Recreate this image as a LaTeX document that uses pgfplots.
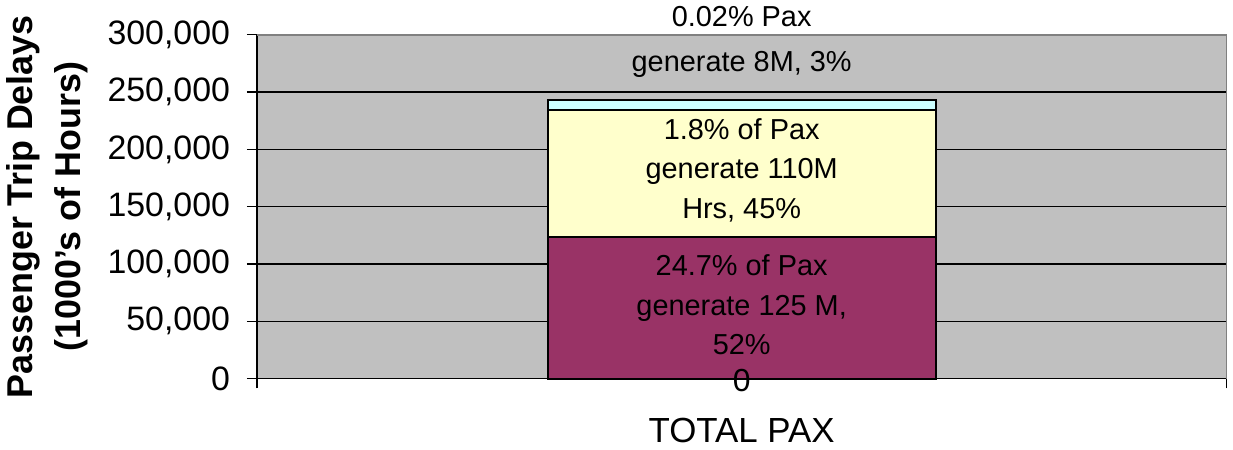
\documentclass[border=0pt]{standalone}
\usepackage{fontspec}
\setmainfont{Liberation Sans}
\usepackage{pgfplots}
\pgfplotsset{compat=1.18}
\definecolor{bggray}{HTML}{C0C0C0}
\definecolor{maroon}{HTML}{993366}
\definecolor{paleyellow}{HTML}{FFFFCC}
\definecolor{palecyan}{HTML}{CCFFFF}
\definecolor{edgegray}{HTML}{808080}
\begin{document}
\begin{tikzpicture}
\begin{axis}[
  scale only axis,
  width=486.5pt, height=172.5pt,
  ybar stacked, bar width=1,
  xmin=-1.25, xmax=1.25,
  ymin=0, ymax=300000,
  xtick={-1.25,1.25}, xticklabels={},
  ytick={0,50000,...,300000},
  scaled y ticks=false,
  yticklabel style={/pgf/number format/fixed, /pgf/number format/1000 sep={,}, /pgf/number format/assume math mode=true, font=\fontsize{17}{18}\selectfont, xshift=-5pt},
  ymajorgrids,
  grid style={black, line width=0.6pt},
  axis background/.style={fill=bggray},
  axis x line*=bottom, axis y line*=left,
  axis line style={black, line width=0.6pt},
  tick align=outside, major tick length=5pt,
  tick style={black, line width=0.6pt},
  ylabel={Passenger Trip Delays\\(1000's of Hours)},
  ylabel style={align=center, font=\bfseries\fontsize{18}{24}\selectfont, yshift=3pt},
  clip=false,
]
\addplot[fill=maroon, draw=black, line width=1pt] coordinates {(0,123500)};
\addplot[fill=paleyellow, draw=black, line width=1pt] coordinates {(0,110500)};
\addplot[fill=palecyan, draw=black, line width=1pt] coordinates {(0,9500)};
\draw[edgegray, line width=0.8pt] (rel axis cs:0,1) -- (rel axis cs:1,1) -- (rel axis cs:1,0);
\coordinate (lmaroon) at (axis cs:0,64348);
\coordinate (lyellow) at (axis cs:0,181739);
\coordinate (ltop1) at (axis cs:0,315652);
\coordinate (ltop2) at (axis cs:0,273913);
\coordinate (lzero) at (axis cs:0,0);
\end{axis}
\node[align=center, font=\fontsize{14.5}{20}\selectfont] at (lmaroon) {24.7\% of Pax\\generate 125 M,\\52\%};
\node[align=center, font=\fontsize{14.5}{20}\selectfont] at (lyellow) {1.8\% of Pax\\generate 110M\\Hrs, 45\%};
\node[font=\fontsize{14.5}{20}\selectfont] at (ltop1) {0.02\% Pax};
\node[font=\fontsize{14.5}{20}\selectfont] at (ltop2) {generate 8M, 3\%};
\node[font=\fontsize{16}{18}\selectfont, yshift=-1pt] at (lzero) {0};
\node[font=\fontsize{17.5}{20}\selectfont, yshift=-26pt] at (lzero) {TOTAL PAX};
\end{tikzpicture}
\end{document}
